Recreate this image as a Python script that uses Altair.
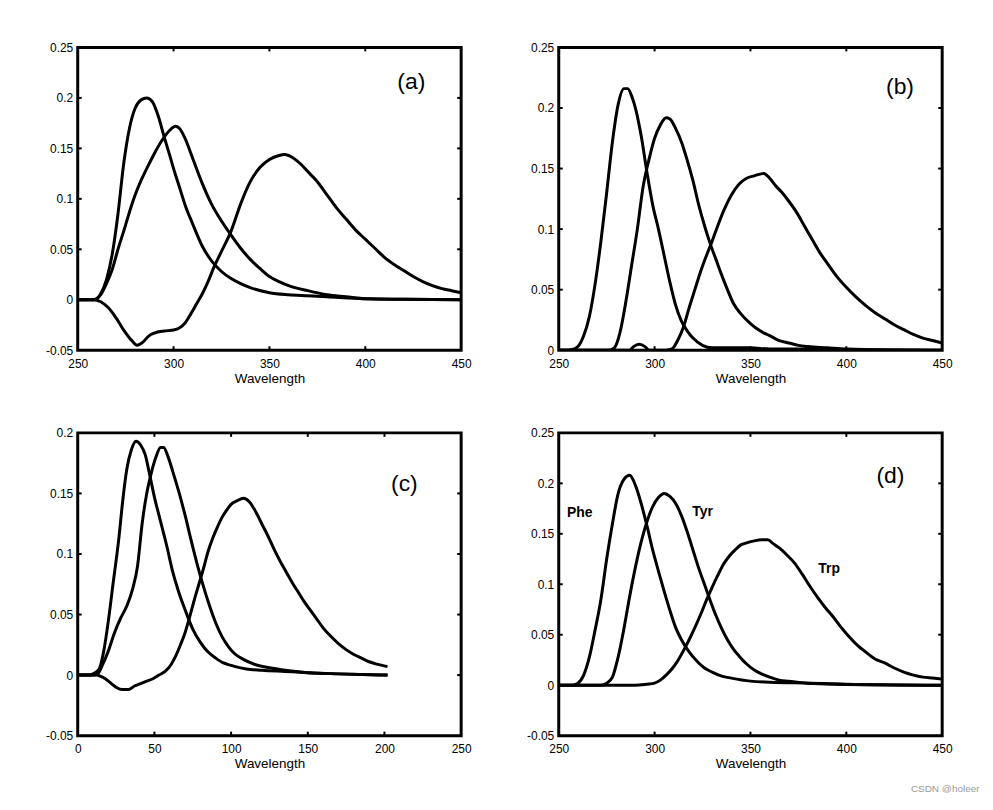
import altair as alt
import pandas as pd

FONT = "Liberation Sans"
W, H = 385, 304
TICK = 4

# ---------------- panel (a) ----------------
a_x1 = [250, 258, 260, 262, 265, 268, 271, 274, 277, 280, 283, 286, 289, 292, 295, 298, 300, 303, 306, 310,
        315, 320, 325, 330, 335, 340, 350, 360, 370, 380, 400, 420, 450]
a_y1 = [0, 0, 0.001, 0.006, 0.02, 0.045, 0.085, 0.135, 0.17, 0.19, 0.198, 0.2, 0.196, 0.182, 0.162, 0.143,
        0.13, 0.112, 0.094, 0.075, 0.053, 0.038, 0.028, 0.021, 0.016, 0.012, 0.007, 0.005, 0.004, 0.003,
        0.001, 0.0005, 0]
a_x2 = [250, 258, 262, 265, 268, 271, 274, 277, 280, 283, 286, 290, 294, 298, 301, 303, 306, 310, 315, 320,
        325, 330, 335, 340, 345, 350, 355, 360, 370, 380, 390, 400, 420, 450]
a_y2 = [0, 0, 0.005, 0.016, 0.03, 0.05, 0.068, 0.087, 0.104, 0.118, 0.13, 0.145, 0.158, 0.168, 0.172, 0.17,
        0.16, 0.14, 0.115, 0.094, 0.078, 0.064, 0.051, 0.04, 0.031, 0.023, 0.018, 0.014, 0.009, 0.005, 0.003,
        0.001, 0.0005, 0]
a_x3 = [250, 258, 262, 266, 270, 274, 278, 281, 284, 287, 290, 295, 300, 303, 306, 309, 312, 315, 318, 321,
        325, 330, 335, 340, 345, 350, 355, 358, 362, 366, 370, 375, 380, 385, 390, 395, 400, 405, 410, 415,
        420, 425, 430, 435, 440, 445, 450]
a_y3 = [0, 0, -0.002, -0.008, -0.018, -0.03, -0.04, -0.045, -0.042, -0.036, -0.033, -0.031, -0.03, -0.028,
        -0.023, -0.014, -0.004, 0.006, 0.018, 0.032, 0.048, 0.068, 0.095, 0.117, 0.131, 0.139, 0.143, 0.144,
        0.141, 0.135, 0.127, 0.117, 0.104, 0.091, 0.08, 0.069, 0.06, 0.051, 0.042, 0.035, 0.029, 0.023,
        0.018, 0.014, 0.011, 0.009, 0.007]

# ---------------- panel (b) ----------------
b_x1 = [250, 255, 258, 260, 263, 266, 269, 272, 275, 278, 281, 284, 286, 288, 290, 293, 296, 299, 302, 305,
        308, 311, 314, 317, 320, 325, 330, 340, 350, 360, 380, 400, 450]
b_y1 = [0, 0, 0.001, 0.003, 0.012, 0.028, 0.055, 0.09, 0.13, 0.172, 0.203, 0.216, 0.216, 0.21, 0.2, 0.177,
        0.147, 0.12, 0.1, 0.078, 0.056, 0.037, 0.024, 0.016, 0.01, 0.004, 0.002, 0.002, 0.002, 0.001, 0.001,
        0, 0]
b_x2 = [250, 276, 279, 282, 285, 288, 291, 294, 297, 300, 303, 306, 308, 311, 314, 317, 320, 323, 326, 329,
        332, 335, 338, 341, 345, 350, 355, 360, 365, 370, 375, 380, 390, 400, 450]
b_y2 = [0, 0, 0.002, 0.015, 0.04, 0.07, 0.1, 0.135, 0.157, 0.175, 0.186, 0.192, 0.191, 0.183, 0.172, 0.157,
        0.14, 0.12, 0.103, 0.088, 0.075, 0.062, 0.05, 0.039, 0.03, 0.022, 0.016, 0.012, 0.008, 0.006, 0.004,
        0.003, 0.002, 0.001, 0]
b_x3 = [250, 287, 289, 292, 295, 297, 306, 309, 312, 315, 318, 321, 324, 327, 330, 333, 336, 340, 344, 348,
        352, 357, 360, 363, 366, 370, 374, 378, 382, 386, 390, 395, 400, 405, 410, 415, 420, 425, 430, 435,
        440, 445, 450]
b_y3 = [0, 0, 0.003, 0.005, 0.003, 0, 0, 0.001, 0.008, 0.019, 0.035, 0.05, 0.065, 0.078, 0.09, 0.103, 0.115,
        0.128, 0.137, 0.142, 0.144, 0.146, 0.142, 0.136, 0.131, 0.123, 0.114, 0.103, 0.092, 0.081, 0.072,
        0.061, 0.052, 0.044, 0.037, 0.031, 0.026, 0.021, 0.017, 0.013, 0.01, 0.008, 0.006]

# ---------------- panel (c) ----------------
c_x1 = [0, 8, 10, 14, 17, 20, 23, 27, 29, 32, 35, 38, 41, 44, 47, 50, 54, 58, 62, 66, 70, 75, 80, 85, 90, 95,
        100, 110, 120, 135, 150, 170, 202]
c_y1 = [0, 0, 0.001, 0.005, 0.02, 0.045, 0.075, 0.115, 0.14, 0.17, 0.186, 0.193, 0.19, 0.182, 0.165, 0.147,
        0.127, 0.107, 0.085, 0.068, 0.054, 0.038, 0.027, 0.019, 0.014, 0.01, 0.008, 0.005, 0.004, 0.003,
        0.002, 0.001, 0]
c_x2 = [0, 10, 13, 16, 20, 24, 28, 32, 36, 39, 42, 45, 48, 51, 54, 56, 59, 62, 66, 70, 74, 78, 82, 86, 90, 94,
        98, 102, 108, 115, 125, 135, 150, 170, 202]
c_y2 = [0, 0, 0.001, 0.008, 0.02, 0.035, 0.047, 0.057, 0.072, 0.09, 0.125, 0.15, 0.167, 0.18, 0.188, 0.188,
        0.18, 0.168, 0.151, 0.132, 0.111, 0.091, 0.073, 0.057, 0.043, 0.032, 0.024, 0.018, 0.013, 0.009,
        0.006, 0.004, 0.002, 0.001, 0]
c_x3 = [0, 12, 15, 18, 21, 25, 29, 33, 37, 41, 45, 49, 53, 57, 61, 64, 67, 70, 73, 76, 79, 82, 85, 88, 91, 94,
        97, 100, 104, 108, 112, 116, 120, 124, 128, 132, 136, 140, 144, 148, 152, 156, 160, 165, 170, 175,
        180, 185, 190, 195, 202]
c_y3 = [0, 0, -0.001, -0.003, -0.006, -0.01, -0.012, -0.012, -0.009, -0.007, -0.005, -0.003, 0, 0.003,
        0.009, 0.016, 0.025, 0.035, 0.048, 0.062, 0.075, 0.088, 0.102, 0.113, 0.122, 0.13, 0.136, 0.141,
        0.144, 0.146, 0.143, 0.135, 0.125, 0.115, 0.104, 0.094, 0.085, 0.076, 0.068, 0.06, 0.053, 0.046,
        0.039, 0.032, 0.026, 0.021, 0.017, 0.014, 0.011, 0.009, 0.007]

# ---------------- panel (d) ----------------
d_x1 = [250, 257, 260, 263, 266, 269, 272, 275, 278, 281, 284, 287, 290, 293, 296, 299, 302, 305, 308, 311,
        314, 318, 322, 326, 330, 335, 340, 350, 360, 380, 400, 450]
d_y1 = [0, 0, 0.002, 0.01, 0.028, 0.055, 0.085, 0.125, 0.16, 0.19, 0.204, 0.208, 0.198, 0.18, 0.158, 0.134,
        0.113, 0.093, 0.074, 0.057, 0.045, 0.033, 0.024, 0.017, 0.013, 0.009, 0.007, 0.004, 0.003, 0.002,
        0.001, 0]
d_x2 = [250, 272, 275, 278, 281, 284, 287, 290, 293, 296, 299, 302, 305, 308, 311, 314, 317, 320, 323, 326,
        329, 332, 335, 338, 341, 344, 348, 352, 356, 360, 365, 370, 380, 395, 450]
d_y2 = [0, 0, 0.002, 0.008, 0.028, 0.056, 0.088, 0.117, 0.142, 0.162, 0.177, 0.186, 0.19, 0.187, 0.18, 0.168,
        0.152, 0.134, 0.116, 0.1, 0.084, 0.069, 0.056, 0.045, 0.036, 0.029, 0.021, 0.015, 0.011, 0.008, 0.005,
        0.004, 0.002, 0.001, 0]
d_x3 = [250, 290, 296, 300, 303, 306, 309, 312, 315, 318, 321, 324, 327, 330, 333, 336, 339, 342, 345, 348,
        352, 356, 359, 362, 365, 369, 373, 377, 381, 385, 389, 393, 397, 401, 405, 410, 415, 420, 425, 430,
        435, 440, 445, 450]
d_y3 = [0, 0, 0.001, 0.002, 0.005, 0.01, 0.016, 0.024, 0.034, 0.045, 0.057, 0.07, 0.084, 0.097, 0.109, 0.12,
        0.128, 0.134, 0.139, 0.141, 0.143, 0.144, 0.144, 0.14, 0.136, 0.129, 0.121, 0.11, 0.098, 0.087, 0.077,
        0.068, 0.058, 0.049, 0.041, 0.033, 0.026, 0.022, 0.017, 0.013, 0.01, 0.008, 0.007, 0.006]

# axis ticks and labels
wl_ticks = [250, 300, 350, 400, 450]
c_ticks = [0, 50, 100, 150, 200, 250]
y_ticks_a = [-0.05, 0, 0.05, 0.1, 0.15, 0.2, 0.25]
y_ticks_b = [0, 0.05, 0.1, 0.15, 0.2, 0.25]
y_ticks_c = [-0.05, 0, 0.05, 0.1, 0.15, 0.2]

panel_labels = ["(a)", "(b)", "(c)", "(d)"]
panel_label_x = [424, 428, 213, 423]
panel_label_y = [0.216, 0.217, 0.158, 0.207]

amino_names = ["Phe", "Tyr", "Trp"]
amino_x = [261, 325, 391]
amino_y = [0.171, 0.172, 0.115]


def panel(curves, xdom, ydom, xticks, yticks, label, lx, ly, notes=None):
    rows = []
    for i, (xs, ys) in enumerate(curves):
        for x, y in zip(xs, ys):
            rows.append({"x": x, "y": y, "s": i})
    df = pd.DataFrame(rows)
    xs = alt.Scale(domain=xdom, nice=False, zero=False)
    ys = alt.Scale(domain=ydom, nice=False, zero=False)
    xaxis = alt.Axis(values=xticks, title="Wavelength", labelExpr="'' + datum.value", labelFlush=False)
    yaxis = alt.Axis(values=yticks, title=None, labelExpr="'' + datum.value", labelFlush=False)
    xq = alt.X("x:Q", scale=xs, axis=xaxis)
    yq = alt.Y("y:Q", scale=ys, axis=yaxis)

    lines = alt.Chart(df).mark_line(color="black", strokeWidth=3, interpolate="monotone",
                                    clip=True).encode(x=xq, y=yq, detail="s:N")
    xt = pd.DataFrame({"x": xticks[1:-1]})
    yt = pd.DataFrame({"y": [v for v in yticks if ydom[0] < v < ydom[1]]})
    tb = alt.Chart(xt).mark_rule(color="black", strokeWidth=2).encode(
        x=xq, y=alt.value(H), y2=alt.value(H - TICK))
    tt = alt.Chart(xt).mark_rule(color="black", strokeWidth=2).encode(
        x=xq, y=alt.value(0), y2=alt.value(TICK))
    tl = alt.Chart(yt).mark_rule(color="black", strokeWidth=2).encode(
        y=yq, x=alt.value(0), x2=alt.value(TICK))
    tr = alt.Chart(yt).mark_rule(color="black", strokeWidth=2).encode(
        y=yq, x=alt.value(W), x2=alt.value(W - TICK))
    lab = alt.Chart(pd.DataFrame({"x": [lx], "y": [ly], "t": [label]})).mark_text(
        font=FONT, fontSize=23, color="black").encode(x=xq, y=yq, text="t:N")
    layers = [lines, tb, tt, tl, tr, lab]
    if notes is not None:
        ndf = pd.DataFrame({"x": notes[1], "y": notes[2], "t": notes[0]})
        layers.append(alt.Chart(ndf).mark_text(font=FONT, fontSize=14, color="black",
                                               fontWeight="bold").encode(
            x=xq, y=yq, text="t:N"))
    return alt.layer(*layers).properties(width=W, height=H)


pa = panel([(a_x1, a_y1), (a_x2, a_y2), (a_x3, a_y3)], [250, 450], [-0.05, 0.25], wl_ticks, y_ticks_a,
           panel_labels[0], panel_label_x[0], panel_label_y[0])
pb = panel([(b_x1, b_y1), (b_x2, b_y2), (b_x3, b_y3)], [250, 450], [0, 0.25], wl_ticks, y_ticks_b,
           panel_labels[1], panel_label_x[1], panel_label_y[1])
pc = panel([(c_x1, c_y1), (c_x2, c_y2), (c_x3, c_y3)], [0, 250], [-0.05, 0.2], c_ticks, y_ticks_c,
           panel_labels[2], panel_label_x[2], panel_label_y[2])
pd_ = panel([(d_x1, d_y1), (d_x2, d_y2), (d_x3, d_y3)], [250, 450], [-0.05, 0.25], wl_ticks, y_ticks_a,
            panel_labels[3], panel_label_x[3], panel_label_y[3], notes=(amino_names, amino_x, amino_y))

chart = alt.concat(pa, pb, pc, pd_, columns=2, spacing={"row": 39, "column": 44}).properties(
    padding={"left": 28, "top": 30, "right": 5, "bottom": 0},
    title=alt.TitleParams("CSDN @holeer", orient="bottom", anchor="end", fontSize=10, color="#9a9a9a",
                          font=FONT, fontWeight="normal", dx=26, offset=13),
).configure_view(stroke="black", strokeWidth=3).configure_axis(
    labelFont=FONT, labelFontSize=12, labelColor="black", ticks=False, domain=False, grid=False,
    titleFont=FONT, titleFontSize=13.5, titleFontWeight="normal", titleColor="black",
).configure_axisY(labelPadding=5, minExtent=40, maxExtent=40).configure_axisX(
    labelPadding=8, titlePadding=2)

chart.save("out.html", embed_options={"renderer": "svg", "actions": False})
